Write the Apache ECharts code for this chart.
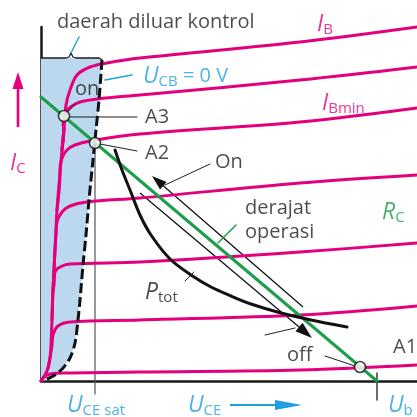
<!DOCTYPE html>
<html>
<head>
<meta charset="utf-8">
<script src="https://cdn.jsdelivr.net/npm/echarts@6/dist/echarts.min.js"></script>
<style>
  html, body { margin: 0; padding: 0; background: #fff; }
  #chart { width: 417px; height: 417px; }
</style>
</head>
<body>
<div id="chart"></div>
<script>
// Switching transistor: output characteristic I_C over U_CE, in relative units.
// x: U_CE (0 .. 376), y: I_C (0 .. 354)

// common steep saturation part shared by all base-current curves
const trunk = [[0,0],[4,6],[7,13],[9,23],[10,36],[11,61],[12,91],[14,131],[16,171],[19,208],[21,231],[23,253]];

// I_B family, from the largest base current to the smallest
const ibTop   = [[25,276],[29,291],[36,306],[49,314],[66,318],[99,323],[259,339],[376,354]];
const ib2     = [[22,256],[25,269],[31,275],[39,279],[56,282],[99,286],[259,301],[376,314]];
const ibMin   = [[19,211],[21,223],[26,231],[34,236],[49,240],[99,247],[259,259],[376,273]];
const ib4     = [[15,146],[16,159],[21,169],[29,175],[46,179],[99,183],[259,198],[376,206]];
const ib5     = [[13,96],[14,109],[19,114],[29,117],[99,119],[259,129],[376,138]];
const ib6     = [[11,36],[12,46],[17,55],[29,59],[99,61],[259,66],[376,75]];
const ib7     = [[3,4],[9,7],[29,8],[99,9],[259,11],[376,16]];
const ibCurves = [ibTop, ib2, ibMin, ib4, ib5, ib6, ib7];

// load line R_C from U_b / R_C down to U_b
const loadLine = [[0,284],[336,0]];
// operating points A3 (on), A2 (edge of saturation), A1 (off)
const points = [[23,265],[54,238],[319,14]];

// U_CB = 0 V boundary
const ucbZero = [[61,321],[58,281],[55,251],[52,221],[48,181],[45,146],[42,116],[39,81],[37,61],[34,38],[29,23],[22,13],[14,6],[2,0]];
// region outside control (saturation)
const zoneTop = [[0,323],[59,323]];
// brace over the saturation region
const brace = [[0,323],[25,323],[28,324],[30,328],[32,324],[35,323],[58,323],[61,321],[61,317]];

// maximum power dissipation hyperbola
const pTot = [[74,231],[81,211],[89,191],[99,166],[110,146],[129,122],[150,106],[170,94],[190,85],[210,77],[240,68],[270,61],[306,54]];

// switching paths along the load line
const pathOn  = [[262,74],[111,205]];
const pathOff = [[99,188],[271,43]];

// axis markers
const uceSat = [[54,238],[54,-13]];
const ubTick = [[336,8],[336,-19]];
const uceArrow = [[189,-24],[261,-24]];
const icArrow  = [[-23,254],[-23,309]];

// leader lines
const leadersInk = [
  [[34,277],[26,268]],      // on -> A3
  [[28,264],[96,264]],      // A3
  [[59,237],[96,230]],      // A2
  [[169,217],[124,196]],    // On
  [[144,100],[153,109]],    // P_tot
  [[224,46],[254,53]],      // switching off
  [[284,25],[314,15]]       // off -> A1
];
const leadersBlue = [
  [[64,301],[91,306]],      // U_CB = 0 V
  [[30,328],[38,344]]       // daerah diluar kontrol
];
const leadersGreen = [
  [[177,138],[195,156]]     // derajat operasi
];

// texts and their anchor (left, middle)
const notes = [
  ['{t|daerah diluar kontrol}', 16, 359, 'ink'],
  ['{v|U}{s|CB}{t| = 0 V}', 102, 305, 'blue'],
  ['{t|on}', 34, 292, 'ink'],
  ['{t|A3}', 104, 264, 'ink'],
  ['{t|A2}', 104, 228, 'ink'],
  ['{t|On}', 174, 219, 'ink'],
  ['{t|derajat}', 204, 173, 'ink'],
  ['{t|operasi}', 204, 149, 'ink'],
  ['{v|R}{s|C}', 341, 169, 'green'],
  ['{v|I}{s|B}', 276, 357, 'pink'],
  ['{v|I}{s|Bmin}', 281, 278, 'pink'],
  ['{v|P}{s|tot}', 104, 89, 'ink'],
  ['{t|off}', 246, 26, 'ink'],
  ['{t|A1}', 352, 34, 'ink'],
  ['{v|U}{s|CE sat}', 26, -24, 'blue'],
  ['{v|U}{s|CE}', 147, -24, 'blue'],
  ['{v|U}{s|b}', 347, -24, 'blue'],
  ['{v|I}{s|C}', -31, 218, 'pink']
];

const C = {
  ink: '#1e1e1e',
  pink: '#e4007c',
  green: '#1c9e4a',
  blue: '#1f9fe0',
  zone: '#bcd8ef',
  grey: '#555555'
};
const FONT = '"Open Sans", "Liberation Sans", sans-serif';

function plainLine(data, color, width, extra) {
  return Object.assign({
    type: 'line', data: data, symbol: 'none', clip: false, silent: true,
    animation: false,
    lineStyle: { color: color, width: width, cap: 'round', join: 'round' }
  }, extra || {});
}

// straight shaft with a filled triangular head at its last point
function arrow(path, color, shaftWidth, len, half) {
  return {
    type: 'custom', clip: false, silent: true, animation: false,
    data: [[0, 0]],
    renderItem: function (params, api) {
      const a = api.coord(path[0]);
      const b = api.coord(path[path.length - 1]);
      const dx = b[0] - a[0], dy = b[1] - a[1];
      const L = Math.hypot(dx, dy), ux = dx / L, uy = dy / L;
      const bx = b[0] - ux * len, by = b[1] - uy * len;
      const w = shaftWidth / 2;
      const ex = bx + ux * 2, ey = by + uy * 2;
      return {
        type: 'group',
        children: [
          {
            type: 'polygon',
            shape: { points: [
              [a[0] - uy * w, a[1] + ux * w], [ex - uy * w, ey + ux * w],
              [ex + uy * w, ey - ux * w], [a[0] + uy * w, a[1] - ux * w]
            ] },
            style: { fill: color }
          },
          {
            type: 'polygon',
            shape: { points: [b, [bx - uy * half, by + ux * half], [bx + uy * half, by - ux * half]] },
            style: { fill: color }
          }
        ]
      };
    }
  };
}

const zoneOutline = zoneTop.concat(ucbZero).concat([[0, 0]]);

const series = [];

// shaded saturation region
series.push({
  type: 'custom', clip: false, silent: true, animation: false,
  data: [[0, 0]],
  renderItem: function (params, api) {
    return {
      type: 'polygon',
      shape: { points: zoneOutline.map(p => api.coord(p)) },
      style: { fill: C.zone }
    };
  }
});

series.push(plainLine(brace, C.ink, 1.3));
series.push(plainLine(uceSat, C.grey, 1.2));
series.push(plainLine(ubTick, C.ink, 1.3));

// shared rise, then each base-current curve branching off it
series.push(plainLine(trunk, C.pink, 3, { smooth: 0.3 }));
ibCurves.forEach(b => {
  const base = trunk.filter(p => p[1] < b[0][1] - 2).slice(-2);
  series.push(plainLine(base.concat(b), C.pink, 3, { smooth: 0.35 }));
});

series.push(plainLine(loadLine, C.green, 3));
series.push(plainLine(ucbZero, '#111', 3, {
  smooth: 0.3,
  lineStyle: { color: '#111', width: 3, type: [10, 4] }
}));
series.push(plainLine(pTot, '#111', 3, { smooth: 0.3 }));

series.push(arrow(pathOn, '#111', 1.3, 15, 5));
series.push(arrow(pathOff, '#111', 1.3, 17, 5.5));

leadersInk.forEach(l => series.push(plainLine(l, C.ink, 1)));
leadersBlue.forEach(l => series.push(plainLine(l, C.blue, 1.4)));
leadersGreen.forEach(l => series.push(plainLine(l, C.green, 1.4)));

series.push(arrow(uceArrow, C.blue, 2, 27, 5));
series.push(arrow(icArrow, C.pink, 2.6, 17, 5.5));

// operating points
series.push({
  type: 'scatter', data: points, clip: false, silent: true, animation: false,
  symbol: 'circle', symbolSize: 11,
  itemStyle: { color: '#fff', borderColor: '#111', borderWidth: 1.6 },
  z: 5
});

// text annotations
const rich = {
  t: { fontSize: 20, lineHeight: 26, fontFamily: FONT },
  v: { fontSize: 23, lineHeight: 26, fontStyle: 'italic', fontFamily: FONT },
  s: { fontSize: 15, lineHeight: 12, verticalAlign: 'bottom', fontFamily: FONT }
};
series.push({
  type: 'scatter', clip: false, silent: true, animation: false,
  symbolSize: 0, z: 6,
  data: notes.map(n => ({
    value: [n[1], n[2]],
    label: {
      show: true, position: 'right', distance: 0,
      formatter: n[0], color: C[n[3]],
      rich: JSON.parse(JSON.stringify(rich))
    }
  })),
  label: { show: true }
});

const chart = echarts.init(document.getElementById('chart'), null, { renderer: 'canvas' });
chart.setOption({
  backgroundColor: '#ffffff',
  animation: false,
  grid: { left: 41, right: 0, top: 27, bottom: 36 },
  xAxis: {
    type: 'value', min: 0, max: 376,
    axisLine: { show: true, onZero: false, lineStyle: { color: '#1a1a1a', width: 2.5 } },
    axisTick: { show: false }, axisLabel: { show: false }, splitLine: { show: false }
  },
  yAxis: {
    type: 'value', min: 0, max: 354,
    axisLine: { show: true, onZero: false, lineStyle: { color: '#1a1a1a', width: 2.5 } },
    axisTick: { show: false }, axisLabel: { show: false }, splitLine: { show: false }
  },
  series: series
});
</script>
</body>
</html>
